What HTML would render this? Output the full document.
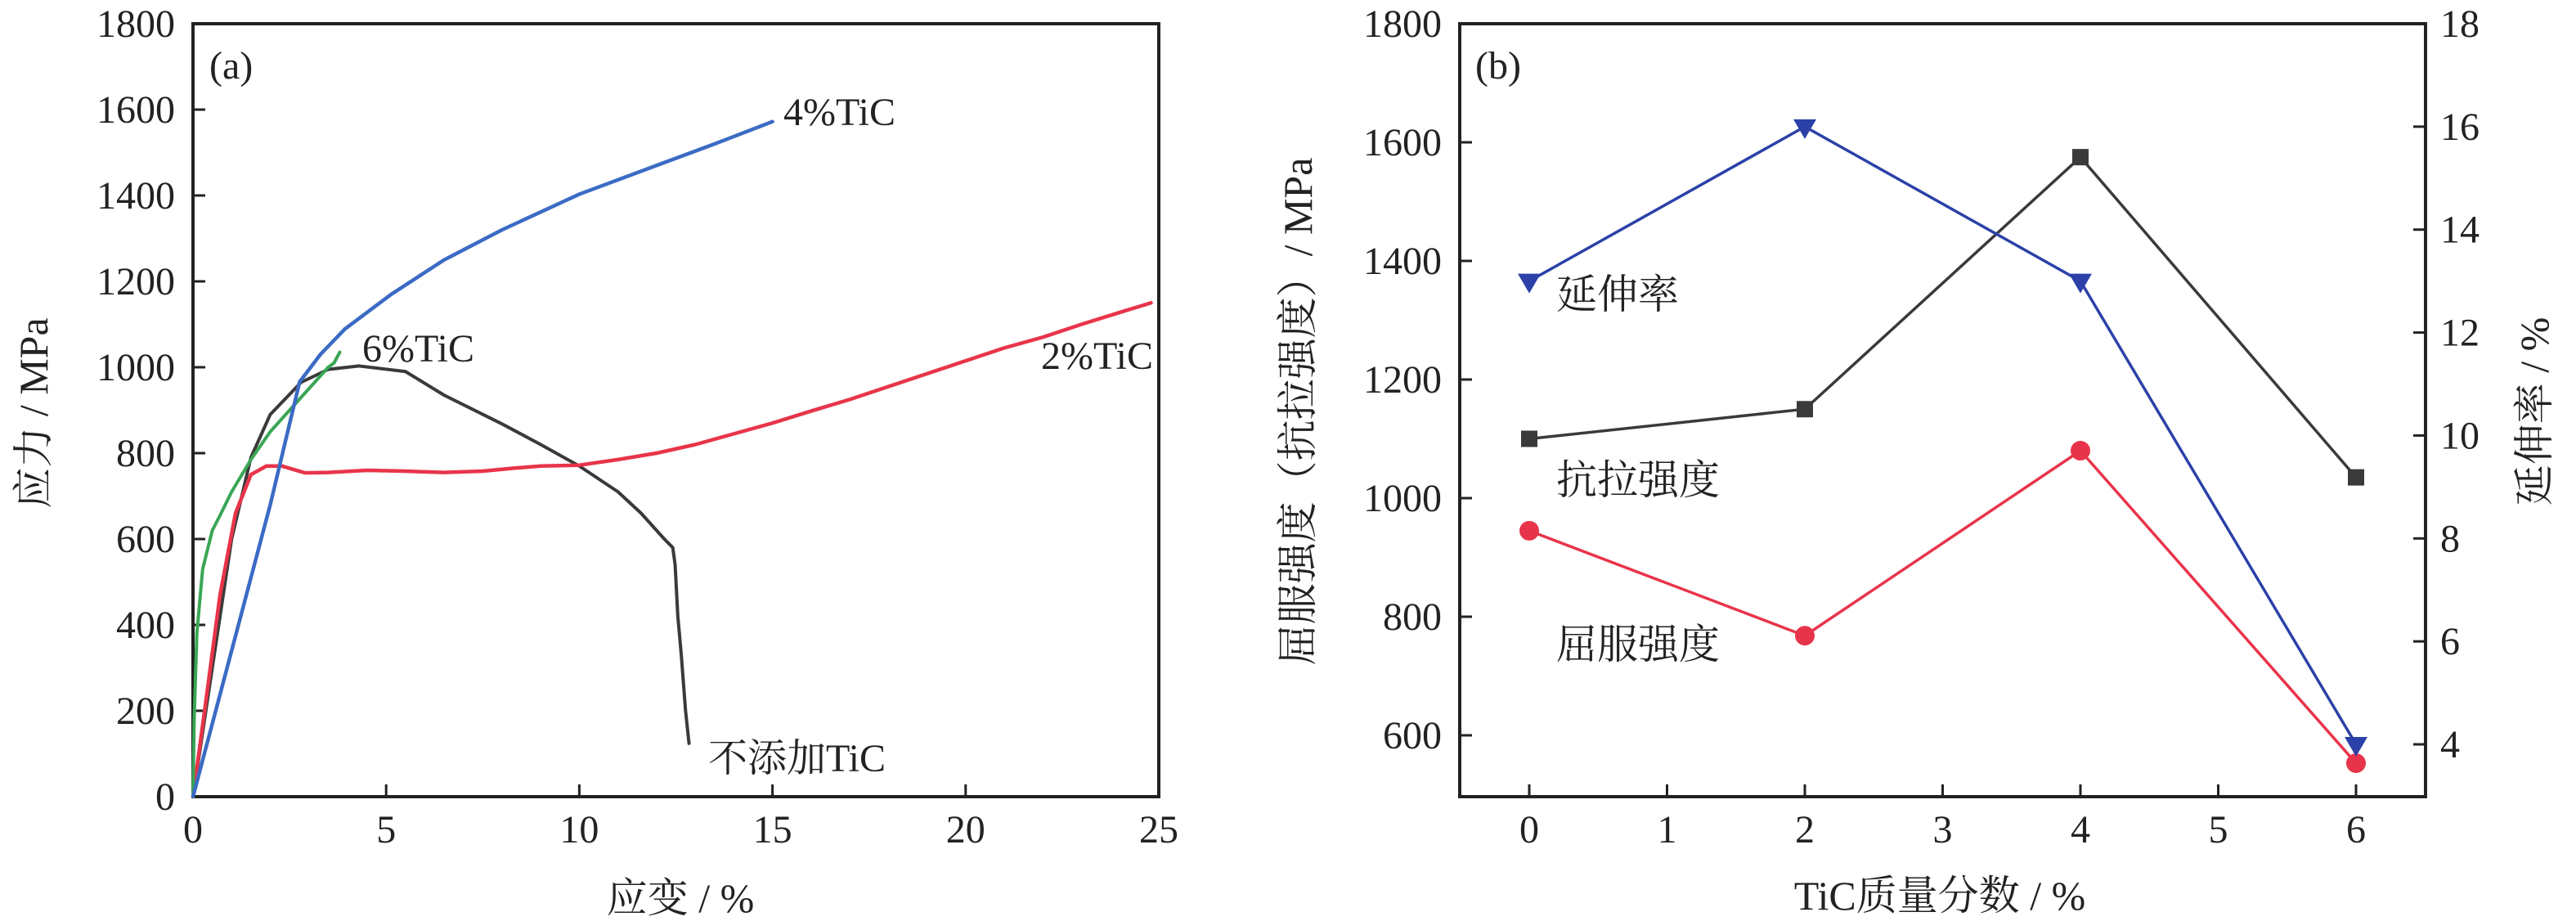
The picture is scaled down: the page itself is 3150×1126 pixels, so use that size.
<!DOCTYPE html>
<html><head><meta charset="utf-8"><style>
html,body{margin:0;padding:0;background:#fff;}
svg{display:block;}
text{font-family:"Liberation Serif","Noto Serif CJK SC","Noto Sans CJK SC",serif;fill:#222;}
</style></head><body>
<svg id="s" width="3150" height="1126" xmlns="http://www.w3.org/2000/svg"></svg>
<script>
const S=document.getElementById('s');let h='';
function ax(v){return 236+v*47.24;} function ay(v){return 974-v*0.525;}
function bx(t){return 1870+t*168.5;} function by(v){return 29+(1800-v)*0.725;} function ry(v){return 29+(18-v)*62.93;}
function T(x,y,s,fs,anchor,extra){h+=`<text x="${x}" y="${y}" font-size="${fs}" text-anchor="${anchor||'start'}" ${extra||''}>${s}</text>`;}
// Panel a
h+=`<rect x="236" y="29" width="1181" height="945" fill="none" stroke="#222" stroke-width="4"/>`;
for(let v=0;v<=1800;v+=200){let y=ay(v);if(v>0&&v<1800)h+=`<line x1="236" y1="${y}" x2="251" y2="${y}" stroke="#222" stroke-width="3"/>`;T(214,y+16,v,48,'end');}
for(let t=0;t<=25;t+=5){let x=ax(t);if(t>0&&t<25)h+=`<line x1="${x}" y1="974" x2="${x}" y2="959" stroke="#222" stroke-width="3"/>`;T(x,1030,t,48,'middle');}
function curve(pts,col,w){h+=`<polyline fill="none" stroke="${col}" stroke-width="${w}" stroke-linejoin="round" stroke-linecap="round" points="${pts.map(p=>ax(p[0])+','+ay(p[1])).join(' ')}"/>`;}
curve([[0,0],[0.5,300],[1,600],[1.5,790],[2,890],[2.8,965],[3.5,995],[4.3,1003],[5.5,990],[6.5,935],[8,868],[9,820],[10,770],[11,710],[11.6,660],[12.2,600],[12.42,580],[12.48,540],[12.55,420],[12.64,330],[12.75,200],[12.84,124]],'#3a3a3a',4);
curve([[0,0],[0.3,200],[0.7,470],[1.1,660],[1.5,750],[1.9,770],[2.3,770],[2.6,762],[2.9,754],[3.5,755],[4.5,760],[5.5,758],[6.5,755],[7.5,758],[8.3,765],[9,770],[10,772],[11,785],[12,800],[13,820],[14,845],[15,870],[16,898],[17,925],[18,955],[19,985],[20,1015],[21,1045],[22,1070],[23,1100],[24,1128],[24.8,1150]],'#e8344a',4.5);
curve([[0,0],[0.03,180],[0.1,380],[0.25,530],[0.5,620],[0.7,655],[1,710],[1.5,785],[2,850],[2.5,900],[3,950],[3.5,1000],[3.65,1010],[3.8,1035]],'#3aa655',4);
curve([[0,0],[1,340],[2,680],[2.76,966],[3.3,1030],[3.93,1089],[5.15,1171],[6.5,1250],[8,1320],[10,1403],[12,1470],[13.5,1520],[15,1572]],'#3b6bc4',4.5);
T(256,96,'(a)',48);
T(958,153,'4%TiC',48);T(443,442,'6%TiC',48);T(1273,451,'2%TiC',48);T(866,943,'不添加TiC',48);
T(832,1115,'应变 / %',50,'middle');
h+=`<text transform="translate(58,505) rotate(-90)" font-size="50" text-anchor="middle">应力 / MPa</text>`;
// Panel b
h+=`<rect x="1785" y="29" width="1181" height="945" fill="none" stroke="#222" stroke-width="4"/>`;
for(let v=600;v<=1800;v+=200){let y=by(v);if(v<1800)h+=`<line x1="1785" y1="${y}" x2="1800" y2="${y}" stroke="#222" stroke-width="3"/>`;T(1763,y+16,v,48,'end');}
for(let v=4;v<=18;v+=2){let y=ry(v);if(v<18)h+=`<line x1="2966" y1="${y}" x2="2951" y2="${y}" stroke="#222" stroke-width="3"/>`;T(2984,y+16,v,48,'start');}
for(let t=0;t<=6;t++){let x=bx(t);h+=`<line x1="${x}" y1="974" x2="${x}" y2="959" stroke="#222" stroke-width="3"/>`;T(x,1030,t,48,'middle');}
const X=[0,2,4,6];
const ten=[1100,1150,1575,1035],yl=[945,768,1080,553],el=[13,16,13,4];
h+=`<polyline fill="none" stroke="#3a3a3a" stroke-width="3.5" points="${X.map((t,i)=>bx(t)+','+by(ten[i])).join(' ')}"/>`;
h+=`<polyline fill="none" stroke="#e8344a" stroke-width="3.5" points="${X.map((t,i)=>bx(t)+','+by(yl[i])).join(' ')}"/>`;
h+=`<polyline fill="none" stroke="#2b41a8" stroke-width="3.5" points="${X.map((t,i)=>bx(t)+','+ry(el[i])).join(' ')}"/>`;
X.forEach((t,i)=>{let x=bx(t);
h+=`<rect x="${x-10}" y="${by(ten[i])-10}" width="20" height="20" fill="#3a3a3a"/>`;
h+=`<circle cx="${x}" cy="${by(yl[i])}" r="12" fill="#e8344a"/>`;
let y=ry(el[i]);h+=`<polygon points="${x-14},${y-9} ${x+14},${y-9} ${x},${y+15}" fill="#2b41a8"/>`;});
T(1804,96,'(b)',48);
T(1903,377,'延伸率',50);T(1903,604,'抗拉强度',50);T(1903,805,'屈服强度',50);
T(2372,1112,'TiC质量分数 / %',50,'middle');
h+=`<text transform="translate(1604,503) rotate(-90)" font-size="50" text-anchor="middle">屈服强度（抗拉强度）/ MPa</text>`;
h+=`<text transform="translate(3116,503) rotate(-90)" font-size="50" text-anchor="middle">延伸率 / %</text>`;
S.innerHTML=h;
</script>
</body></html>
